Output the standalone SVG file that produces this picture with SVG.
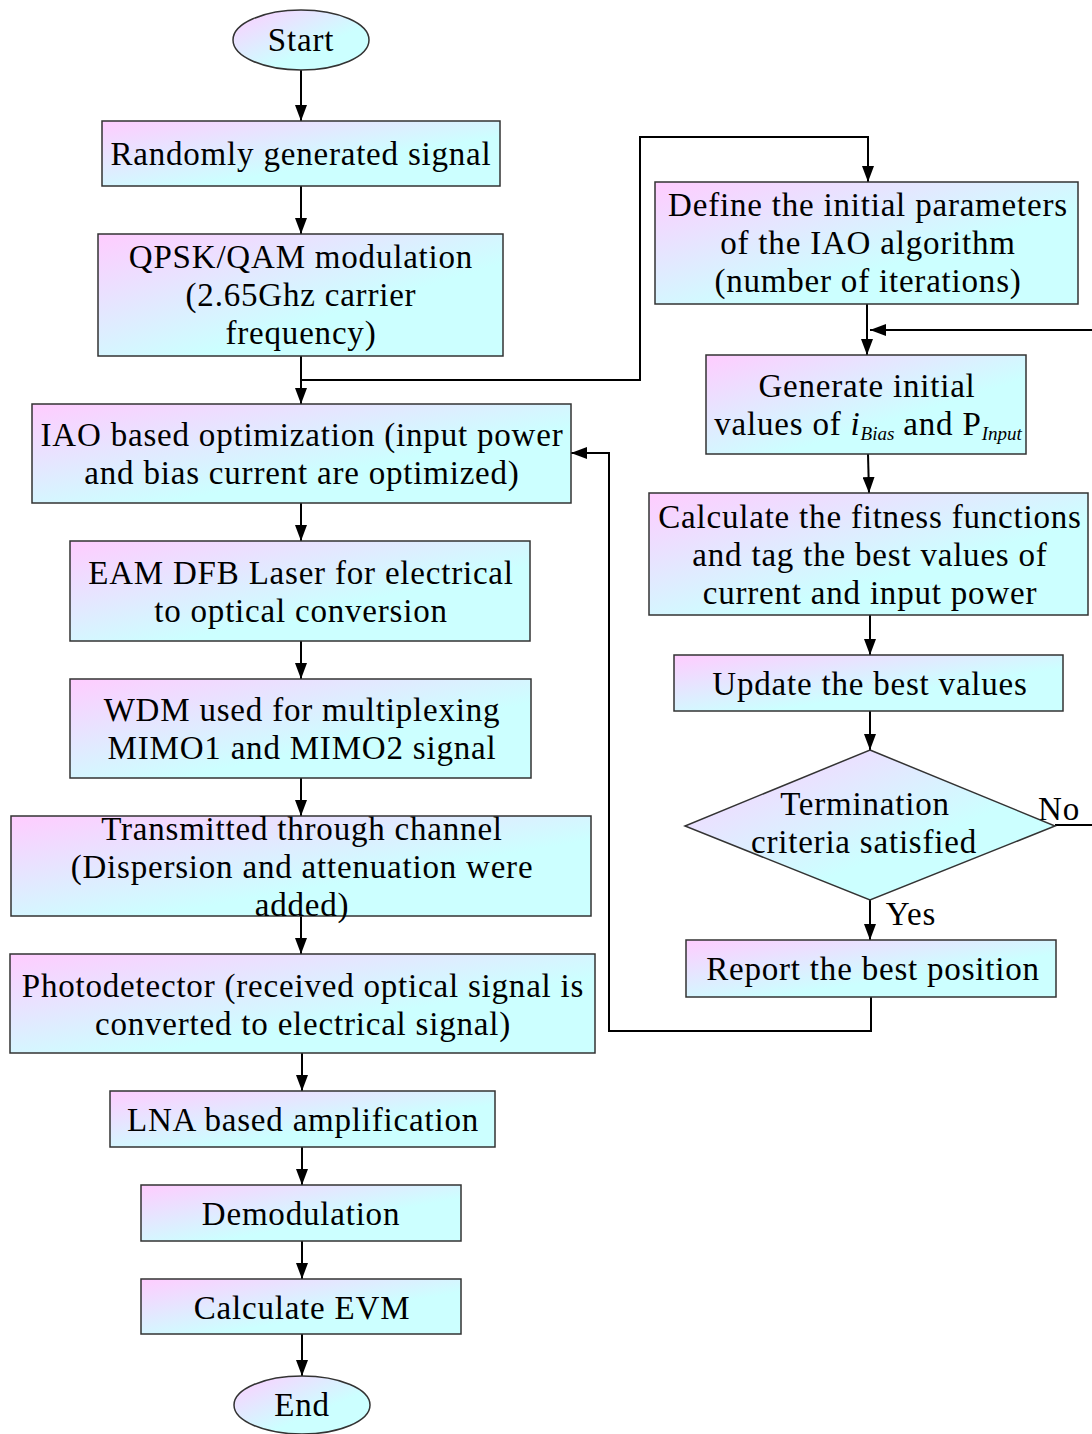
<svg xmlns="http://www.w3.org/2000/svg" width="1092" height="1434" viewBox="0 0 1092 1434">
<defs>
<linearGradient id="g" x1="0" y1="0" x2="1" y2="1">
<stop offset="0" stop-color="#ffccff"/>
<stop offset="0.62" stop-color="#ccffff"/>
<stop offset="1" stop-color="#ccffff"/>
</linearGradient>
<marker id="ah" viewBox="0 0 16 12" refX="16" refY="6" markerWidth="16" markerHeight="12" markerUnits="userSpaceOnUse" orient="auto">
<path d="M0,0 L16,6 L0,12 z" fill="#000"/>
</marker>
<style>
.n{fill:url(#g);stroke:#333;stroke-width:1.5}
.t{font-family:"Liberation Serif","Times New Roman",serif;font-size:33px;letter-spacing:0.8px;fill:#000;text-anchor:middle}
.c{fill:none;stroke:#000;stroke-width:2}
.a{marker-end:url(#ah)}
.sub{font-size:19px;font-style:italic;letter-spacing:0}
</style>
</defs>
<rect width="1092" height="1434" fill="#fff"/>
<g id="connectors">
<line class="c a" x1="301" y1="70" x2="301" y2="121"/>
<line class="c a" x1="301" y1="186" x2="301" y2="234"/>
<line class="c a" x1="301" y1="356" x2="301" y2="404"/>
<polyline class="c a" points="301,380 640,380 640,137 868,137 868,182"/>
<line class="c a" x1="301" y1="503" x2="301" y2="541"/>
<line class="c a" x1="301" y1="641" x2="301" y2="679"/>
<line class="c a" x1="301" y1="778" x2="301" y2="816"/>
<line class="c a" x1="301" y1="916" x2="301" y2="954"/>
<line class="c a" x1="302" y1="1053" x2="302" y2="1091"/>
<line class="c a" x1="302" y1="1147" x2="302" y2="1185"/>
<line class="c a" x1="302" y1="1241" x2="302" y2="1279"/>
<line class="c a" x1="302" y1="1334" x2="302" y2="1376"/>
<line class="c a" x1="867" y1="304" x2="867" y2="355"/>
<line class="c a" x1="1092" y1="330" x2="870" y2="330"/>
<line class="c a" x1="868" y1="454" x2="869" y2="493"/>
<line class="c a" x1="870" y1="615" x2="870" y2="655"/>
<line class="c a" x1="870" y1="711" x2="870" y2="750"/>
<line class="c" x1="1055" y1="825" x2="1092" y2="825"/>
<line class="c a" x1="870" y1="900" x2="870" y2="940"/>
<polyline class="c a" points="871,997 871,1031 609,1031 609,453 571,453"/>
<text class="t" x="1059" y="820">No</text>
<text class="t" x="911" y="925">Yes</text>
</g>
<g id="start"><ellipse class="n" cx="301" cy="40" rx="68" ry="30"/><text class="t" x="301" y="51">Start</text></g>
<g id="n1"><rect class="n" x="102" y="121" width="398" height="65"/><text class="t" x="301" y="165">Randomly generated signal</text></g>
<g id="n2"><rect class="n" x="98" y="234" width="405" height="122"/><text class="t" x="301" y="268">QPSK/QAM modulation</text><text class="t" x="301" y="306">(2.65Ghz carrier</text><text class="t" x="301" y="344">frequency)</text></g>
<g id="n3"><rect class="n" x="32" y="404" width="539" height="99"/><text class="t" x="302" y="446">IAO based optimization (input power</text><text class="t" x="302" y="484">and bias current are optimized)</text></g>
<g id="n4"><rect class="n" x="70" y="541" width="460" height="100"/><text class="t" x="301" y="584">EAM DFB Laser for electrical</text><text class="t" x="301" y="622">to optical conversion</text></g>
<g id="n5"><rect class="n" x="70" y="679" width="461" height="99"/><text class="t" x="302" y="721">WDM used for multiplexing</text><text class="t" x="302" y="759">MIMO1 and MIMO2 signal</text></g>
<g id="n6"><rect class="n" x="11" y="816" width="580" height="100"/><text class="t" x="302" y="840">Transmitted through channel</text><text class="t" x="302" y="878">(Dispersion and attenuation were</text><text class="t" x="302" y="916">added)</text></g>
<g id="n7"><rect class="n" x="10" y="954" width="585" height="99"/><text class="t" x="303" y="997">Photodetector (received optical signal is</text><text class="t" x="303" y="1035">converted to electrical signal)</text></g>
<g id="n8"><rect class="n" x="110" y="1091" width="385" height="56"/><text class="t" x="303" y="1131">LNA based amplification</text></g>
<g id="n9"><rect class="n" x="141" y="1185" width="320" height="56"/><text class="t" x="301" y="1225">Demodulation</text></g>
<g id="n10"><rect class="n" x="141" y="1279" width="320" height="55"/><text class="t" x="302" y="1319">Calculate EVM</text></g>
<g id="end"><ellipse class="n" cx="302" cy="1405" rx="68" ry="29"/><text class="t" x="302" y="1416">End</text></g>
<g id="r1"><rect class="n" x="655" y="182" width="423" height="122"/><text class="t" x="868" y="216">Define the initial parameters</text><text class="t" x="868" y="254">of the IAO algorithm</text><text class="t" x="868" y="292">(number of iterations)</text></g>
<g id="r2"><rect class="n" x="706" y="355" width="320" height="99"/><text class="t" x="867" y="397">Generate initial</text><text class="t" x="868" y="435">values of <tspan font-style="italic">i</tspan><tspan class="sub" dy="5">Bias</tspan><tspan dy="-5"> and P</tspan><tspan class="sub" dy="5">Input</tspan></text></g>
<g id="r3"><rect class="n" x="649" y="493" width="439" height="122"/><text class="t" x="870" y="528">Calculate the fitness functions</text><text class="t" x="870" y="566">and tag the best values of</text><text class="t" x="870" y="604">current and input power</text></g>
<g id="r4"><rect class="n" x="674" y="655" width="389" height="56"/><text class="t" x="870" y="695">Update the best values</text></g>
<g id="d1"><polygon class="n" points="870,750 1055,826 870,900 685,826"/><text class="t" x="865" y="815">Termination</text><text class="t" x="864" y="853">criteria satisfied</text></g>
<g id="r5"><rect class="n" x="686" y="940" width="370" height="57"/><text class="t" x="873" y="980">Report the best position</text></g>
</svg>
